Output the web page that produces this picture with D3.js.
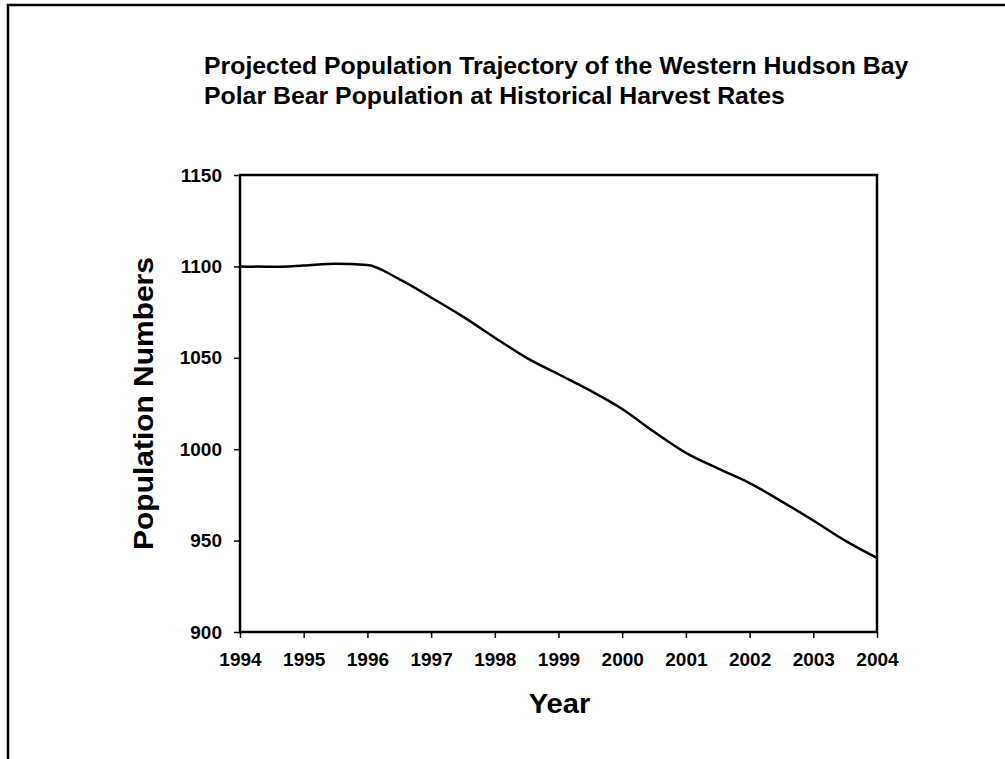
<!DOCTYPE html>
<html>
<head>
<meta charset="utf-8">
<script src="https://cdn.jsdelivr.net/npm/d3@7"></script>
<style>
  html, body { margin: 0; padding: 0; background: #fff; }
  svg { display: block; }
  text { font-family: "Liberation Sans", Arial, sans-serif; font-weight: bold; fill: #000; }
</style>
</head>
<body>
<svg id="chart" width="1005" height="759"></svg>
<script>
// ---- Data ----
const titleLines = [
  "Projected Population Trajectory of the Western Hudson Bay",
  "Polar Bear Population at Historical Harvest Rates"
];
const xLabel = "Year";
const yLabel = "Population Numbers";
const years = [1994, 1994.5, 1995, 1995.5, 1996, 1996.5, 1997, 1997.5, 1998, 1998.5, 1999,
               1999.5, 2000, 2000.5, 2001, 2001.5, 2002, 2002.5, 2003, 2003.5, 2004];
const population = [1100, 1099.8, 1100.5, 1101.5, 1100.8, 1093, 1083, 1072.5, 1061, 1050, 1041,
                    1032, 1022, 1009.5, 998, 989.5, 981.5, 971.5, 961, 950, 940.5];
const xTicks = [1994, 1995, 1996, 1997, 1998, 1999, 2000, 2001, 2002, 2003, 2004];
const yTicks = [900, 950, 1000, 1050, 1100, 1150];

// ---- Layout ----
const svg = d3.select("#chart");
const plot = { left: 240, right: 877, top: 175, bottom: 632 };

const x = d3.scaleLinear().domain([1994, 2004]).range([plot.left, plot.right]);
const y = d3.scaleLinear().domain([900, 1150]).range([plot.bottom, plot.top]);

// outer frame
svg.append("rect")
  .attr("x", 8).attr("y", 5)
  .attr("width", 1010).attr("height", 770)
  .attr("fill", "none").attr("stroke", "#000").attr("stroke-width", 2.5);

// title
svg.append("g").selectAll("text").data(titleLines).join("text")
  .attr("transform", (d, i) => `translate(204,${74 + i * 30}) scale(1.08,1)`)
  .attr("font-size", 23)
  .text(d => d);

// plot box
svg.append("rect")
  .attr("x", plot.left).attr("y", plot.top)
  .attr("width", plot.right - plot.left).attr("height", plot.bottom - plot.top)
  .attr("fill", "none").attr("stroke", "#000").attr("stroke-width", 2.5);

// axes
const xAxis = d3.axisBottom(x).tickValues(xTicks).tickFormat(d3.format("d"))
  .tickSize(6).tickSizeOuter(0).tickPadding(15);
const gx = svg.append("g").attr("transform", `translate(0,${plot.bottom})`).call(xAxis);
gx.select(".domain").remove();
gx.selectAll(".tick line").attr("stroke", "#000").attr("stroke-width", 1.5);
gx.selectAll(".tick text").attr("font-size", 19)
  .attr("font-family", "Liberation Sans, Arial, sans-serif").attr("font-weight", "bold").attr("fill", "#000");

const yAxis = d3.axisLeft(y).tickValues(yTicks).tickFormat(d3.format("d"))
  .tickSize(6).tickSizeOuter(0).tickPadding(12);
const gy = svg.append("g").attr("transform", `translate(${plot.left},0)`).call(yAxis);
gy.select(".domain").remove();
gy.selectAll(".tick line").attr("stroke", "#000").attr("stroke-width", 1.5);
gy.selectAll(".tick text").attr("font-size", 19)
  .attr("font-family", "Liberation Sans, Arial, sans-serif").attr("font-weight", "bold").attr("fill", "#000");

// line
const line = d3.line().x((d, i) => x(years[i])).y(d => y(d)).curve(d3.curveMonotoneX);
svg.append("path")
  .attr("d", line(population))
  .attr("fill", "none").attr("stroke", "#000").attr("stroke-width", 2.5)
  .attr("stroke-linejoin", "round");

// axis labels
svg.append("text")
  .attr("transform", `translate(${(plot.left + plot.right) / 2 + 1},713) scale(1.04,1)`)
  .attr("text-anchor", "middle")
  .attr("font-size", 28)
  .text(xLabel);

svg.append("text")
  .attr("transform", `translate(153,${(plot.top + plot.bottom) / 2}) rotate(-90) scale(1.07,1)`)
  .attr("text-anchor", "middle")
  .attr("font-size", 28)
  .text(yLabel);
</script>
</body>
</html>
